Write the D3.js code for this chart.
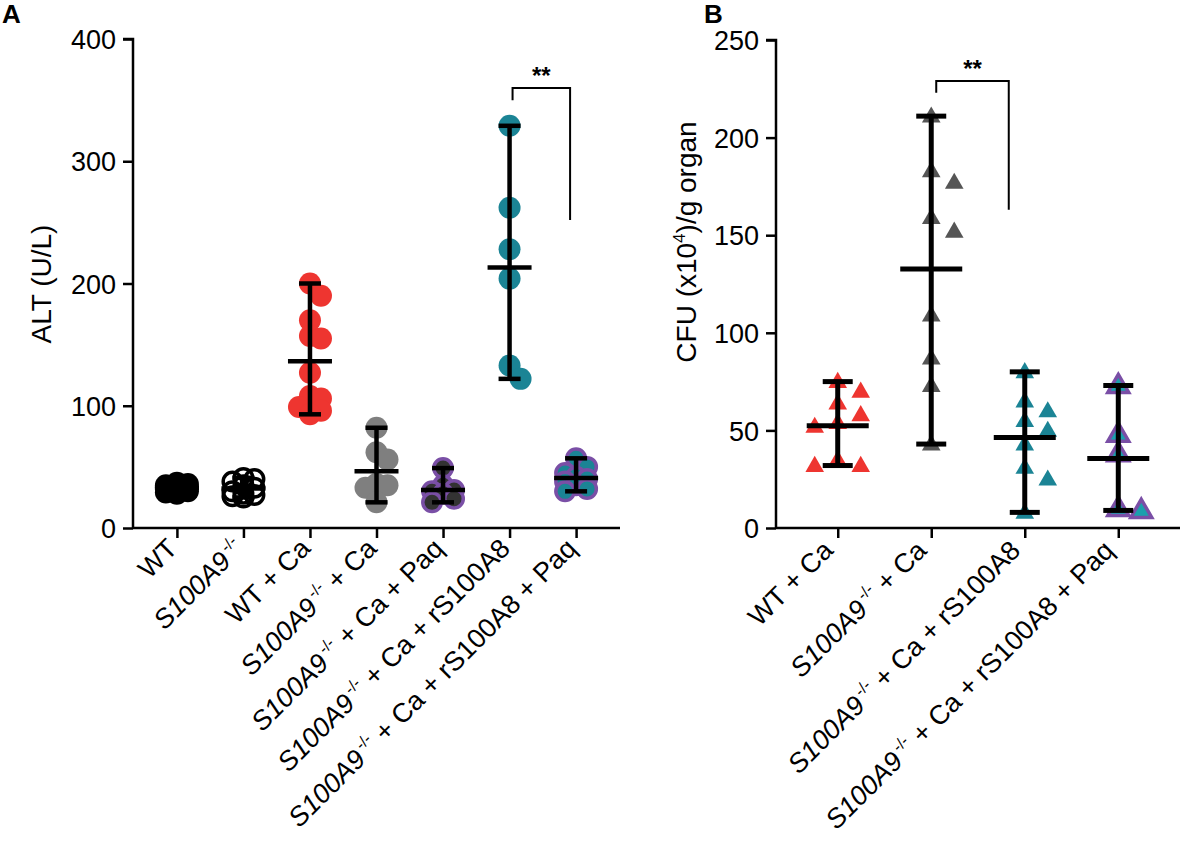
<!DOCTYPE html>
<html>
<head>
<meta charset="utf-8">
<script src="https://cdnjs.cloudflare.com/ajax/libs/d3/7.8.5/d3.min.js"></script>
<style>
  body { margin: 0; background: #fff; }
  text { font-family: "Liberation Sans", Arial, sans-serif; fill: #000; }
</style>
</head>
<body>
<script>
// ---- data: panel A (ALT, U/L) ----
const groupsA = ['WT', 'S100A9-/-', 'WT + Ca', 'S100A9-/- + Ca', 'S100A9-/- + Ca + Paq',
    'S100A9-/- + Ca + rS100A8', 'S100A9-/- + Ca + rS100A8 + Paq'];
const altWT = [37, 36, 35, 34, 33, 33, 32, 30, 29, 28];
const altKO = [41, 40, 38, 35, 33, 30, 28, 27, 26, 25];
const altWTCa = [200, 190, 170, 157, 155, 127, 108, 106, 99, 96, 93];
const altKOCa = [82, 62, 56, 36, 35, 33, 21];
const altKOCaPaq = [49, 35, 31, 30, 28, 24, 21];
const altKOCaR8 = [329, 262, 228, 204, 133, 122];
const altKOCaR8Paq = [57, 50, 45, 42, 40, 38, 35, 32, 30];
const ticksA = [0, 100, 200, 300, 400];

// ---- data: panel B (CFU x10^4 / g organ) ----
const groupsB = ['WT + Ca', 'S100A9-/- + Ca', 'S100A9-/- + Ca + rS100A8', 'S100A9-/- + Ca + rS100A8 + Paq'];
const cfuWTCa = [75, 70, 64, 58, 54, 52, 35, 32, 32];
const cfuKOCa = [211, 183, 177, 159, 152, 109, 87, 73, 43];
const cfuKOCaR8 = [80, 65, 60, 55, 50, 43, 31, 25, 8];
const cfuKOCaR8Paq = [73, 48, 38, 10, 9];
const ticksB = [0, 50, 100, 150, 200, 250];

// significance brackets: groups compared, bracket top / leg ends in data units
const sigA = { a: 5, b: 6, top: 360, leftEnd: 350, rightEnd: 252, label: '**' };
const sigB = { a: 1, b: 2, top: 229, leftEnd: 223, rightEnd: 163, label: '**' };

const width = 1182, height = 851;
const svg = d3.select('body').append('svg')
    .attr('width', width)
    .attr('height', height);

const panelA = {
    name: 'A', nameX: 2, nameY: 23,
    groups: groupsA,
    values: [altWT, altKO, altWTCa, altKOCa, altKOCaPaq, altKOCaR8, altKOCaR8Paq],
    styles: [
        { fill: '#000', stroke: 'none' },
        { fill: 'none', stroke: '#000', sw: 3.5 },
        { fill: '#ee3530', stroke: 'none' },
        { fill: '#7f7f7f', stroke: 'none' },
        { fill: '#333', stroke: '#7a4fa6', sw: 3.5 },
        { fill: '#1b8495', stroke: 'none' },
        { fill: '#1b8495', stroke: '#7a4fa6', sw: 3.5 }
    ],
    shape: 'circle', r: 11, step: 11, minDist: 14,
    x0: 133, x1: 620, y0: 528, y1: 39, max: 400, ticks: ticksA,
    meanW: 44, capW: 22, barW: 4.5,
    ylabel: [{ t: 'ALT (U/L)' }], ylabelX: 51, ylabelY: 284,
    labelDx: 2, labelY: 550,
    sig: sigA, sigDa: 3, sigDb: -6
};

const panelB = {
    name: 'B', nameX: 704, nameY: 23,
    groups: groupsB,
    values: [cfuWTCa, cfuKOCa, cfuKOCaR8, cfuKOCaR8Paq],
    styles: [
        { fill: '#ee3530', stroke: 'none' },
        { fill: '#555', stroke: 'none' },
        { fill: '#1b8495', stroke: 'none' },
        { fill: '#1ba0ad', stroke: '#7a4fa6', sw: 3.5 }
    ],
    shape: 'triangle', r: 9, step: 23, minDist: 18,
    x0: 776, x1: 1180, y0: 528, y1: 40, max: 250, ticks: ticksB,
    meanW: 62, capW: 30, barW: 5,
    ylabel: [{ t: 'CFU (x10' }, { t: '4', sup: true }, { t: ')/g organ' }], ylabelX: 696, ylabelY: 242,
    labelDx: -3, labelY: 552,
    sig: sigB, sigDa: 5, sigDb: -16
};

drawPanel(panelA);
drawPanel(panelB);

// place points side by side when they would overlap (like a scatter dot plot)
function swarm(values, cx, y, step, minDist) {
    const placed = [];
    const offs = [0, step, -step];
    values.slice().sort((a, b) => b - a).forEach(v => {
        const py = y(v);
        let best = null, bestD = -1;
        for (const o of offs) {
            const d = placed.length ? d3.min(placed, q => Math.hypot(q.x - (cx + o), q.y - py)) : Infinity;
            if (d >= minDist) { best = o; break; }
            if (d > bestD) { bestD = d; best = o; }
        }
        placed.push({ x: cx + best, y: py, v: v });
    });
    return placed;
}

function labelParts(label) {
    const m = label.match(/^S100A9(-\/-)(.*)$/);
    if (!m) return [{ t: label }];
    return [{ t: 'S100A9', it: true }, { t: '\u2009-/-', sup: true }, { t: m[2] }];
}

function drawPanel(p) {
    const g = svg.append('g');

    const x = d3.scalePoint()
        .domain(p.groups)
        .range([p.x0, p.x1])
        .padding(0.66);

    const y = d3.scaleLinear()
        .domain([0, p.max])
        .range([p.y0, p.y1]);

    // points
    p.groups.forEach((grp, i) => {
        const st = p.styles[i];
        const pts = swarm(p.values[i], x(grp), y, p.step, p.minDist);
        const sel = g.append('g').selectAll('.pt')
            .data(pts)
            .enter();
        if (p.shape === 'circle') {
            sel.append('circle')
                .attr('cx', d => d.x)
                .attr('cy', d => d.y)
                .attr('r', st.stroke === 'none' ? p.r : p.r - st.sw / 2)
                .attr('fill', st.fill)
                .attr('stroke', st.stroke)
                .attr('stroke-width', st.sw || 0);
        } else {
            const sym = d3.symbol().type(d3.symbolTriangle).size(st.stroke === 'none' ? 150 : 190);
            sel.append('path')
                .attr('d', sym)
                .attr('transform', d => `translate(${d.x},${d.y + 1})`)
                .attr('fill', st.fill)
                .attr('stroke', st.stroke)
                .attr('stroke-width', st.sw || 0)
                .attr('stroke-linejoin', 'miter');
        }
    });

    // mean with range
    p.groups.forEach((grp, i) => {
        const vals = p.values[i];
        const cx = x(grp);
        const lo = d3.min(vals), hi = d3.max(vals), mean = d3.mean(vals);
        const bar = g.append('g')
            .attr('stroke', '#000')
            .attr('stroke-width', p.barW);
        bar.append('line')
            .attr('x1', cx).attr('x2', cx)
            .attr('y1', y(lo)).attr('y2', y(hi));
        [lo, hi].forEach(v => bar.append('line')
            .attr('x1', cx - p.capW / 2).attr('x2', cx + p.capW / 2)
            .attr('y1', y(v)).attr('y2', y(v)));
        bar.append('line')
            .attr('x1', cx - p.meanW / 2).attr('x2', cx + p.meanW / 2)
            .attr('y1', y(mean)).attr('y2', y(mean));
    });

    // axes
    const yAxis = g.append('g')
        .attr('transform', `translate(${p.x0},0)`)
        .call(d3.axisLeft(y).tickValues(p.ticks).tickSize(10).tickPadding(7));
    yAxis.selectAll('text')
        .style('font-size', '27px')
        .attr('dy', '0.36em');

    const xAxis = g.append('g')
        .attr('transform', `translate(0,${p.y0})`)
        .call(d3.axisBottom(x).tickSize(10).tickFormat(''));

    [yAxis, xAxis].forEach(a => {
        a.select('.domain').attr('stroke-width', 2.5);
        a.selectAll('.tick line').attr('stroke-width', 2.5);
    });
    yAxis.select('.domain').attr('d', `M-10,${p.y1}H0V${p.y0}`);
    xAxis.select('.domain').attr('d', `M${p.x0},0H${p.x1}`);

    // rotated category labels
    p.groups.forEach(grp => {
        const t = g.append('text')
            .attr('transform', `translate(${x(grp) + p.labelDx},${p.labelY}) rotate(-45)`)
            .attr('text-anchor', 'end')
            .style('font-size', '27px');
        labelParts(grp).forEach((part, k) => {
            const s = t.append('tspan').text(part.t);
            if (part.it) s.style('font-style', 'italic');
            if (part.sup) s.style('font-size', '16px').attr('dy', -11);
            else if (k > 0) s.attr('dy', 11);
        });
    });

    // y label
    const yl = g.append('text')
        .attr('transform', `translate(${p.ylabelX},${p.ylabelY}) rotate(-90)`)
        .attr('text-anchor', 'middle')
        .style('font-size', '28px');
    p.ylabel.forEach((part, k) => {
        const s = yl.append('tspan').text(part.t);
        if (part.sup) s.style('font-size', '17px').attr('dy', -11);
        else if (k > 0) s.attr('dy', 11);
    });

    // panel letter
    g.append('text')
        .attr('x', p.nameX)
        .attr('y', p.nameY)
        .style('font-size', '26px')
        .style('font-weight', 'bold')
        .text(p.name);

    // significance bracket
    const s = p.sig;
    const xa = x(p.groups[s.a]) + p.sigDa, xb = x(p.groups[s.b]) + p.sigDb;
    g.append('path')
        .attr('d', `M${xa},${y(s.leftEnd)}V${y(s.top)}H${xb}V${y(s.rightEnd)}`)
        .attr('fill', 'none')
        .attr('stroke', '#000')
        .attr('stroke-width', 2);
    g.append('text')
        .attr('x', (xa + xb) / 2)
        .attr('y', y(s.top) - 4)
        .attr('text-anchor', 'middle')
        .style('font-size', '24px')
        .style('font-weight', 'bold')
        .text(s.label);
}
</script>
</body>
</html>
